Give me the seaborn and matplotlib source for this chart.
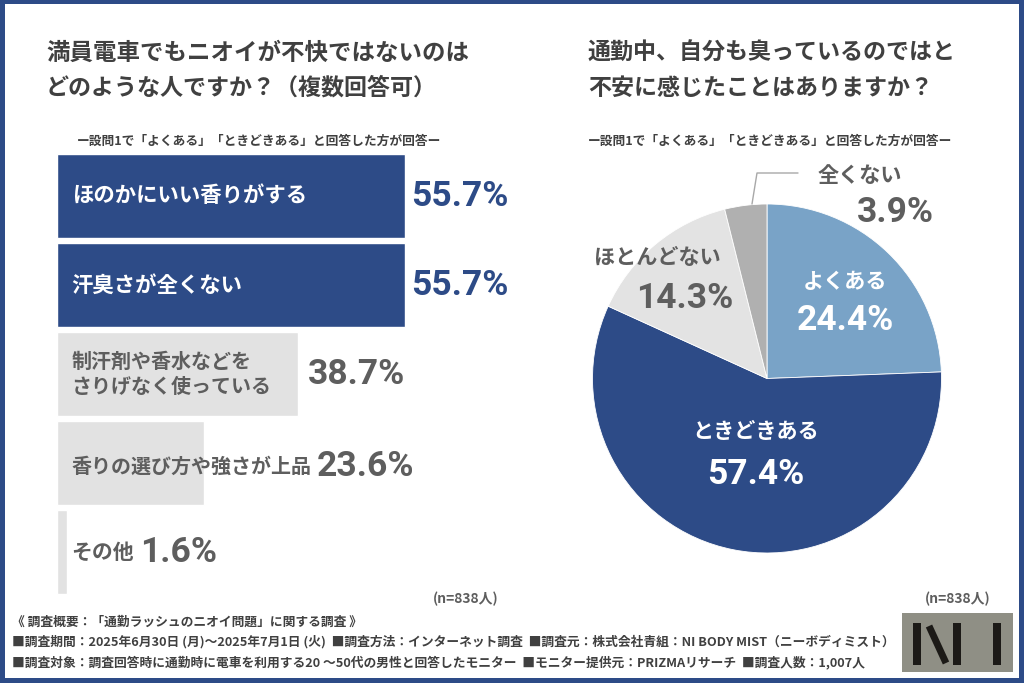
import pandas as pd
import seaborn as sns
import matplotlib.pyplot as plt
from matplotlib.patches import Rectangle

# data
bar_labels = ['ほのかにいい香りがする', '汗臭さが全くない', '制汗剤や香水などを\nさりげなく使っている',
              '香りの選び方や強さが上品', 'その他']
bar_values = [55.7, 55.7, 38.7, 23.6, 1.6]
pie_labels = ['よくある', 'ときどきある', 'ほとんどない', '全くない']
pie_values = [24.4, 57.4, 14.3, 3.9]

navy = '#2d4b87'
gray_text = '#5e5e5e'
dark_text = '#404040'
pie_colors = ['#79a3c7', navy, '#e3e3e3', '#b0b0b0']
bar_colors = [navy, navy, '#e2e2e2', '#e2e2e2', '#e2e2e2']

sns.set_theme(style='white')
jp = ['Noto Sans CJK JP', 'DejaVu Sans']
num = ['Roboto', 'DejaVu Sans']
plt.rcParams['font.family'] = jp

W, H = 1024, 683
fig = plt.figure(figsize=(W / 100, H / 100), dpi=100, facecolor=navy)


def px_axes(left, top, right, bottom):
    a = fig.add_axes([left / W, 1 - bottom / H, (right - left) / W, (bottom - top) / H])
    return a


# white card in pixel coordinates
bg = px_axes(0, 0, W, H)
bg.set_xlim(0, W)
bg.set_ylim(H, 0)
bg.axis('off')
bg.add_patch(Rectangle((5, 4), 1014, 674, facecolor='white', edgecolor='none'))

# ---- bars ----
ax = px_axes(57, 151.5, 500, 596)
df = pd.DataFrame({'label': bar_labels, 'value': bar_values})
sns.barplot(data=df, x='value', y='label', hue='label', palette=bar_colors, legend=False,
            width=0.944, saturation=1, ax=ax)
ax.set_xlim(0, 443 / 6.24)
ax.axis('off')

# ---- pie ----
pie_ax = px_axes(592, 204, 942, 553)
pie_ax.pie(pie_values, colors=pie_colors, startangle=90, counterclock=False, radius=1,
           wedgeprops={'linewidth': 0.6, 'edgecolor': 'white'})
pie_ax.set_xlim(-1, 1)
pie_ax.set_ylim(-1, 1)

# text overlay, pixel coordinates
top = px_axes(0, 0, W, H)
top.set_xlim(0, W)
top.set_ylim(H, 0)
top.axis('off')

# bar texts
label_size = [15.4, 15.4, 14.4, 14.4, 15]
label_dy = [0, 0, 0, 4, 1]
value_dy = [1, 1, 1, 4, 1]
value_x = [411, 411, 308, 317, 140]
for i, (lab, val) in enumerate(zip(bar_labels, bar_values)):
    ax.annotate(lab, (0, i), xytext=(10.5, -label_dy[i] * 0.72), textcoords='offset points', va='center', ha='left',
                color='white' if i < 2 else gray_text, fontsize=label_size[i], fontweight='bold', linespacing=1.25)
    c = navy if i < 2 else gray_text
    ax.annotate(f'{val}%', (0, i), xytext=((value_x[i] - 57) * 0.72, -value_dy[i] * 0.72),
                textcoords='offset points', va='center', ha='left', color=c, fontsize=25.5,
                fontweight='bold', family=num)

# pie texts
pie_text = [(845, 281, 320, 'white'), (756, 431, 475, 'white'), (657, 258, 298, gray_text), (860, 175, 212, gray_text)]
pie_num_x = [845, 756, 685, 895]
for lab, val, (x, y1, y2, c), xn in zip(pie_labels, pie_values, pie_text, pie_num_x):
    top.text(x, y1, lab, ha='center', va='center', color=c, fontsize=15.2, fontweight='bold')
    top.text(xn, y2, f'{val}%', ha='center', va='center', color=c, fontsize=25.5, fontweight='bold', family=num)

# leader line for 全くない
top.plot([752, 757, 798], [204, 173, 173], color='#a8a8a8', lw=1)

# ---- titles ----
top.text(46, 53, '満員電車でもニオイが不快ではないのは', fontsize=16.9, fontweight='bold', color=dark_text, va='center')
top.text(46, 88, 'どのような人ですか？（複数回答可）', fontsize=16.6, fontweight='bold', color=dark_text, va='center')
top.text(588, 53, '通勤中、自分も臭っているのではと', fontsize=16.6, fontweight='bold', color=dark_text, va='center')
top.text(588, 88, '不安に感じたことはありますか？', fontsize=16.6, fontweight='bold', color=dark_text, va='center')

sub = 'ー設問1で「よくある」「ときどきある」と回答した方が回答ー'
top.text(77, 141, sub, fontsize=9.2, fontweight='bold', color=dark_text, va='center')
top.text(588, 141, sub, fontsize=9.2, fontweight='bold', color=dark_text, va='center')

top.text(466, 599, '(n=838人)', fontsize=10, fontweight='bold', color=gray_text, va='center', ha='center')
top.text(958, 599, '(n=838人)', fontsize=10, fontweight='bold', color=gray_text, va='center', ha='center')

# ---- survey footer ----
foot = ['《 調査概要：「通勤ラッシュのニオイ問題」に関する調査 》',
        '■調査期間：2025年6月30日 (月)～2025年7月1日 (火)  ■調査方法：インターネット調査  ■調査元：株式会社青組：NI BODY MIST（ニーボディミスト）',
        '■調査対象：調査回答時に通勤時に電車を利用する20 ～50代の男性と回答したモニター  ■モニター提供元：PRIZMAリサーチ  ■調査人数：1,007人']
for y, line in zip([622, 642, 662], foot):
    top.text(12, y, line, fontsize=9.2, fontweight='bold', color=dark_text, va='center')

# ---- logo ----
top.add_patch(Rectangle((902, 613), 111, 59, facecolor='#8f8f85', edgecolor='none'))
for x in [913, 953, 993]:
    top.add_patch(Rectangle((x, 623), 8, 42, facecolor='#1c1a17', edgecolor='none'))
top.plot([929, 946], [626, 663], color='#1c1a17', lw=5, solid_capstyle='butt')

fig.savefig('out.png', dpi=100, facecolor=fig.get_facecolor())
